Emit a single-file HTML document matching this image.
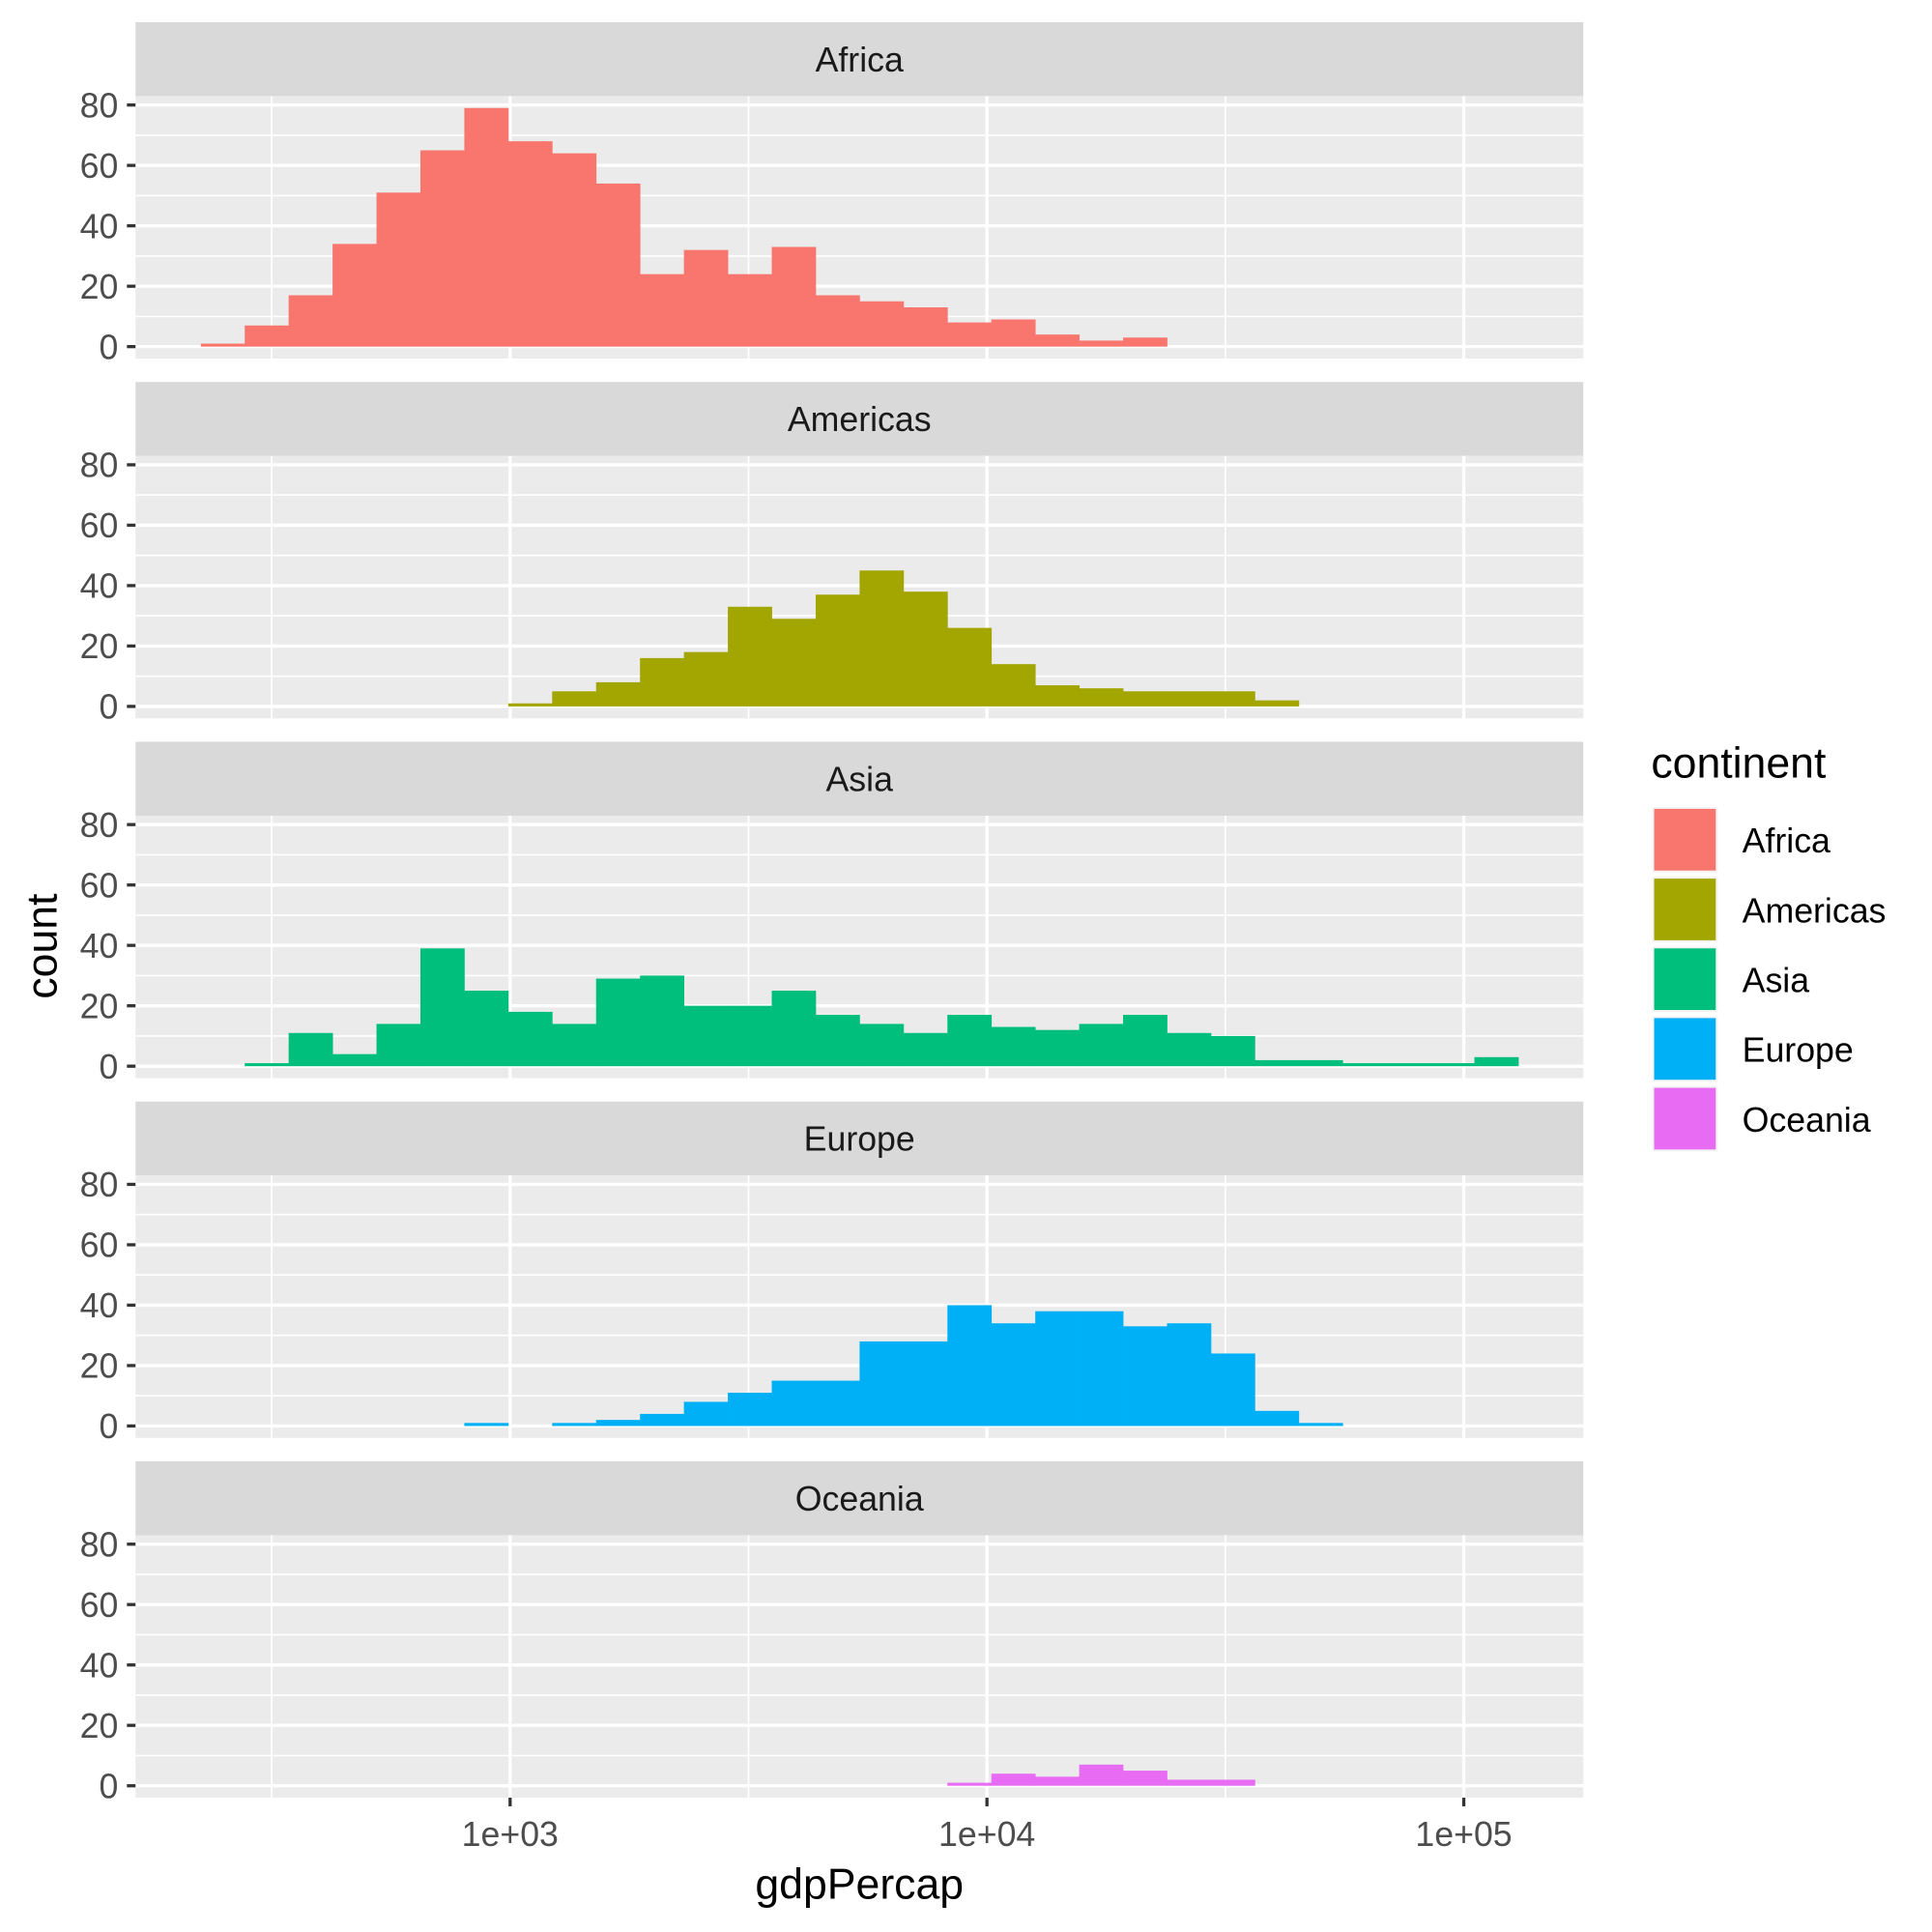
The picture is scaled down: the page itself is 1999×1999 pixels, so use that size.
<!DOCTYPE html>
<html><head><meta charset="utf-8"><style>
html,body{margin:0;padding:0;background:#fff}
svg{display:block}
text{font-family:"Liberation Sans",Arial,sans-serif}
</style></head><body>
<svg id="chart" width="1999" height="1999" viewBox="0 0 1568 1568" xmlns="http://www.w3.org/2000/svg"></svg>
<script>
const continents = ["Africa","Americas","Asia","Europe","Oceania"];
const colors = ["#F8766D","#A3A500","#00BF7D","#00B0F6","#E76BF3"];
const binStartLog = 2.3514;
const binWidthLog = 0.0921;
const africaCounts   = [1,7,17,34,51,65,79,68,64,54,24,32,24,33,17,15,13,8,9,4,2,3,0,0,0,0,0,0,0,0];
const americasCounts = [0,0,0,0,0,0,0,1,5,8,16,18,33,29,37,45,38,26,14,7,6,5,5,5,2,0,0,0,0,0];
const asiaCounts     = [0,1,11,4,14,39,25,18,14,29,30,20,20,25,17,14,11,17,13,12,14,17,11,10,2,2,1,1,1,3];
const europeCounts   = [0,0,0,0,0,0,1,0,1,2,4,8,11,15,15,28,28,40,34,38,38,33,34,24,5,1,0,0,0,0];
const oceaniaCounts  = [0,0,0,0,0,0,0,0,0,0,0,0,0,0,0,0,0,1,4,3,7,5,2,2,0,0,0,0,0,0];
const allCounts = [africaCounts,americasCounts,asiaCounts,europeCounts,oceaniaCounts];
const yTicks = [0,20,40,60,80];
const yMinor = [10,30,50,70];
const xTicks = [3,4,5];
const xTickLabels = ["1e+03","1e+04","1e+05"];
const xMinor = [2.5,3.5,4.5];

const svg = document.getElementById('chart');
const NS = "http://www.w3.org/2000/svg";
function mk(tag, attrs, parent){const e=document.createElementNS(NS,tag);for(const k in attrs)e.setAttribute(k,attrs[k]);(parent||svg).appendChild(e);return e;}
const PX0=110, PX1=1285;
const xScale = lg => 414 + (lg-3)*387;
const pitch = 292;
const stripTop0 = 18, stripH = 60, panelH = 213;
const yMin=-3.95, yMax=82.95;

continents.forEach((c,i)=>{
  const g = mk('g',{});
  
  
  const st = stripTop0 + i*pitch;
  const pt = st + stripH, pb = pt + panelH;
  const yScale = v => pb - (v - yMin)/(yMax-yMin)*panelH;
  const strip = mk('rect',{x:PX0,y:st,width:PX1-PX0,height:stripH,fill:'#d9d9d9'},g);
  
  
  const stt = mk('text',{x:(PX0+PX1)/2,y:st+40,'text-anchor':'middle','font-size':28,fill:'#1a1a1a'},g);
  stt.textContent=c;
  
  
  mk('rect',{x:PX0,y:pt,width:PX1-PX0,height:panelH,fill:'#ebebeb'},g);
  yMinor.forEach(v=>mk('line',{x1:PX0,x2:PX1,y1:yScale(v),y2:yScale(v),stroke:'#fff','stroke-width':1.3},g));
  xMinor.forEach(v=>mk('line',{x1:xScale(v),x2:xScale(v),y1:pt,y2:pb,stroke:'#fff','stroke-width':1.3},g));
  yTicks.forEach(v=>{
    const y=yScale(v);
    mk('line',{x1:PX0,x2:PX1,y1:y,y2:y,stroke:'#fff','stroke-width':2.6},g);
    mk('line',{x1:PX0-7,x2:PX0,y1:y,y2:y,stroke:'#333','stroke-width':2.6},g);
    const t=mk('text',{x:PX0-14,y:y+10,'text-anchor':'end','font-size':28,fill:'#4d4d4d'},g);
    t.textContent=v;
    
    
  });
  xTicks.forEach(v=>mk('line',{x1:xScale(v),x2:xScale(v),y1:pt,y2:pb,stroke:'#fff','stroke-width':2.6},g));
  allCounts[i].forEach((n,b)=>{
    if(n<=0) return;
    const x0 = xScale(binStartLog + b*binWidthLog), x1 = xScale(binStartLog + (b+1)*binWidthLog);
    const r = mk('rect',{x:x0,y:yScale(n),width:x1-x0+0.3,height:yScale(0)-yScale(n),fill:colors[i]},g);
    
    
  });
  if(i===continents.length-1){
    xTicks.forEach((v,k)=>{
      mk('line',{x1:xScale(v),x2:xScale(v),y1:pb,y2:pb+7,stroke:'#333','stroke-width':2.6});
      const t=mk('text',{x:xScale(v),y:pb+39,'text-anchor':'middle','font-size':28,fill:'#4d4d4d'});
      t.textContent=xTickLabels[k];
      
      
    });
  }
});
const xt = mk('text',{x:(PX0+PX1)/2,y:1541,'text-anchor':'middle','font-size':35,fill:'#000'});
xt.textContent='gdpPercap';


const yt = mk('text',{x:0,y:0,'text-anchor':'middle','font-size':35,fill:'#000',transform:'translate(46,768) rotate(-90)'});
yt.textContent='count';


const lg = mk('g',{});


const lt = mk('text',{x:1340,y:631,'font-size':35,fill:'#000'},lg);
lt.textContent='continent';


continents.forEach((c,i)=>{
  const y=655+i*56.6;
  const e = mk('g',{},lg);
  
  
  mk('rect',{x:1341,y:y,width:53,height:53,fill:'#f2f2f2'},e);
  mk('rect',{x:1342.5,y:y+1.5,width:50,height:50,fill:colors[i]},e);
  const t=mk('text',{x:1414,y:y+37,'font-size':28,fill:'#000'},e);
  t.textContent=c;
});
</script>
</body></html>
